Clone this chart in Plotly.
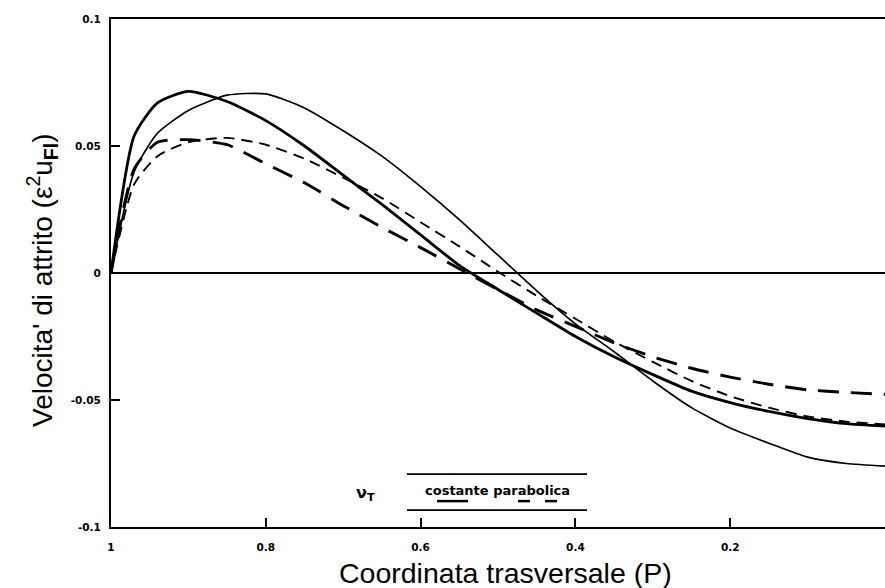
import plotly.graph_objects as go

# Transverse coordinate (P), x axis reversed 1 -> 0
x_grid = [1.0, 0.97, 0.94, 0.9, 0.85, 0.8, 0.75, 0.7, 0.65, 0.6, 0.55, 0.5,
          0.45, 0.4, 0.35, 0.3, 0.25, 0.2, 0.15, 0.1, 0.05, 0.0]

# thin solid curve
y_thin_solid = [0.0, 0.040, 0.055, 0.064, 0.070, 0.0705, 0.065, 0.056, 0.046, 0.034,
                0.021, 0.007, -0.007, -0.020, -0.031, -0.0425, -0.053, -0.061,
                -0.067, -0.0725, -0.075, -0.076]
# thick solid curve
y_thick_solid = [0.0, 0.054, 0.067, 0.0715, 0.0675, 0.060, 0.050, 0.0385, 0.027, 0.015,
                 0.003, -0.0065, -0.0158, -0.025, -0.033, -0.040, -0.0465, -0.051,
                 -0.0545, -0.0573, -0.0593, -0.0603]
# thin short-dashed curve
y_short_dash = [0.0, 0.035, 0.046, 0.0515, 0.0532, 0.0505, 0.045, 0.0375, 0.0295, 0.020,
                0.0105, 0.0005, -0.009, -0.018, -0.027, -0.035, -0.0425, -0.0485,
                -0.053, -0.0565, -0.0585, -0.0596]
# thick long-dashed curve
y_long_dash = [0.0, 0.041, 0.0515, 0.0525, 0.0505, 0.043, 0.0355, 0.0265, 0.018, 0.010,
               0.0017, -0.0065, -0.0145, -0.021, -0.0275, -0.033, -0.0375, -0.041,
               -0.0438, -0.046, -0.047, -0.0478]

x_ticks = [1, 0.8, 0.6, 0.4, 0.2, 0]
x_ticklabels = ["1", "0.8", "0.6", "0.4", "0.2", "0"]
y_ticks = [-0.1, -0.05, 0, 0.05, 0.1]
y_ticklabels = ["-0.1", "-0.05", "0", "0.05", "0.1"]

FONT = "Liberation Sans, Arial, sans-serif"
BOLDFONT = "DejaVu Sans, sans-serif"

fig = go.Figure()
fig.add_trace(go.Scatter(x=x_grid, y=y_thin_solid, mode="lines",
                         line=dict(color="black", width=1.7, shape="spline", smoothing=0.6)))
fig.add_trace(go.Scatter(x=x_grid, y=y_thick_solid, mode="lines",
                         line=dict(color="black", width=2.8, shape="spline", smoothing=0.6)))
fig.add_trace(go.Scatter(x=x_grid, y=y_short_dash, mode="lines",
                         line=dict(color="black", width=1.9, dash="11px,7px", shape="spline", smoothing=0.6)))
fig.add_trace(go.Scatter(x=x_grid, y=y_long_dash, mode="lines",
                         line=dict(color="black", width=2.9, dash="21px,12px", shape="spline", smoothing=0.6)))

fig.update_layout(
    width=885, height=588,
    margin=dict(l=111, r=0, t=19, b=61),
    paper_bgcolor="white", plot_bgcolor="white",
    showlegend=False,
    font=dict(family=FONT, color="black"),
    xaxis=dict(range=[1, 0], autorange=False, tickvals=x_ticks, ticktext=x_ticklabels,
               ticks="inside", ticklen=9, tickwidth=1.5, tickcolor="black",
               showline=True, linewidth=2, linecolor="black", mirror=True,
               showgrid=False, zeroline=False,
               tickfont=dict(family=BOLDFONT, size=10.5, color="black", weight="bold"),
               ticklabelstandoff=9),
    yaxis=dict(range=[-0.1, 0.1], autorange=False, tickvals=y_ticks, ticktext=y_ticklabels,
               ticks="inside", ticklen=9, tickwidth=1.5, tickcolor="black",
               showline=True, linewidth=2, linecolor="black",
               showgrid=False, zeroline=True, zerolinecolor="black", zerolinewidth=1.6,
               tickfont=dict(family=BOLDFONT, size=10.5, color="black", weight="bold"),
               ticklabelstandoff=6),
)

# Axis titles (positioned in page pixels)
fig.add_annotation(x=(505 - 111) / 774, y=(527 - 573) / 508, xref="paper", yref="paper",
                   text="Coordinata trasversale (P)", showarrow=False,
                   xanchor="center", yanchor="middle",
                   font=dict(family=FONT, size=28.5, color="black"))
fig.add_annotation(x=(42 - 111) / 774, y=(527 - 280) / 508, xref="paper", yref="paper",
                   text="Velocita' di attrito (ε<sup>2</sup>u<sub><b>Fl</b></sub>)",
                   textangle=-90, showarrow=False, xanchor="center", yanchor="middle",
                   font=dict(family=FONT, size=28, color="black"))

# In-plot legend block
def px2x(px):
    return 1 - (px - 111) / 774

def py2y(py):
    return (273 - py) / 2550

fig.add_annotation(x=px2x(365), y=py2y(494), xref="x", yref="y",
                   text="<b>ν<sub>T</sub></b>", showarrow=False,
                   font=dict(family=BOLDFONT, size=16, color="black"))
fig.add_annotation(x=px2x(497), y=py2y(491), xref="x", yref="y",
                   text="<b>costante parabolica</b>", showarrow=False,
                   font=dict(family=BOLDFONT, size=13, color="black"))
for py in (475, 511):
    fig.add_shape(type="line", x0=px2x(407), x1=px2x(587), y0=py2y(py), y1=py2y(py),
                  xref="x", yref="y", line=dict(color="black", width=1.8))
fig.add_shape(type="line", x0=px2x(437), x1=px2x(468), y0=py2y(502), y1=py2y(502),
              xref="x", yref="y", line=dict(color="black", width=2.5))
for a, b in ((518, 530), (545, 557)):
    fig.add_shape(type="line", x0=px2x(a), x1=px2x(b), y0=py2y(502), y1=py2y(502),
                  xref="x", yref="y", line=dict(color="black", width=2.5))

fig.write_html("out.html", config={"displayModeBar": False},
               post_script="document.body.style.margin='0';")
